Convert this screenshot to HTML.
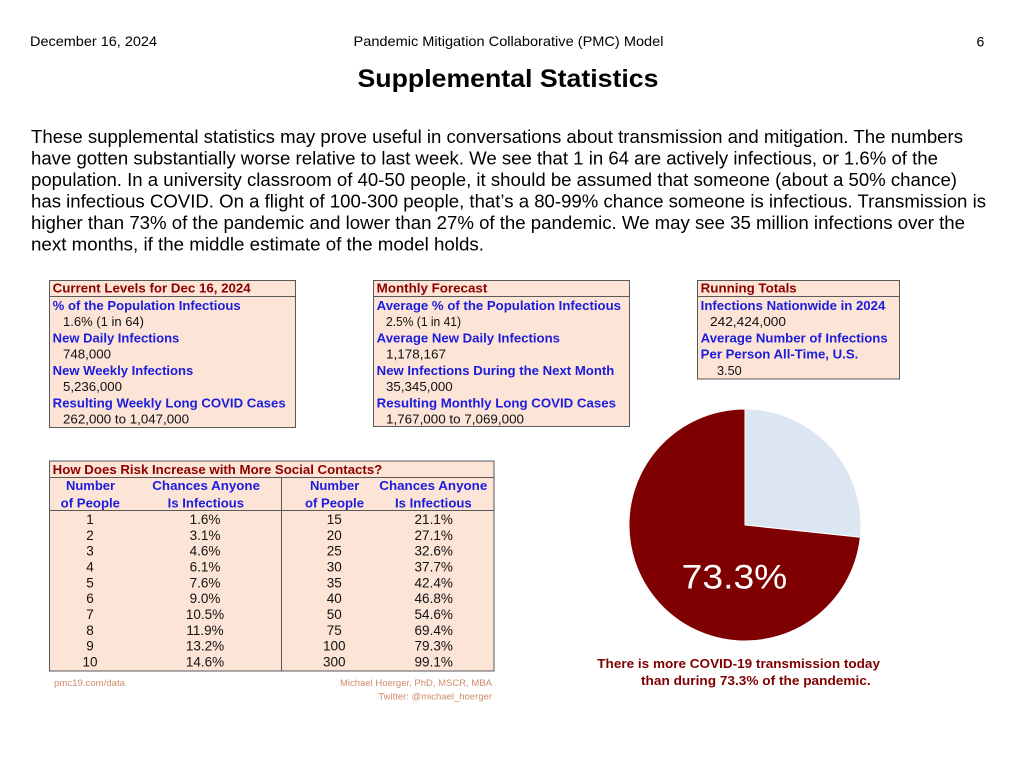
<!DOCTYPE html>
<html>
<head>
<meta charset="utf-8">
<style>
  html,body{margin:0;padding:0;background:#fff;}
  svg{display:block;}
  text{font-family:"Liberation Sans", Arial, sans-serif;}
  .hd{font-size:13px;font-weight:bold;fill:#8c0000;}
  .lb{font-size:13px;font-weight:bold;fill:#1c1cdc;}
  .vl{font-size:13px;fill:#111;}
  .th{font-size:13px;font-weight:bold;fill:#1c1cdc;}
  .td{font-size:13.5px;fill:#111;}
  .ft{font-size:9.5px;fill:#d08a6a;}
  .p{font-size:18px;fill:#000;}
</style>
</head>
<body>
<svg width="1019" height="765" viewBox="0 0 1019 765" xmlns="http://www.w3.org/2000/svg">
  <rect x="0" y="0" width="1019" height="765" fill="#fff"/>

  <!-- Header -->
  <text x="30" y="46" font-size="14" fill="#000" textLength="127" lengthAdjust="spacingAndGlyphs">December 16, 2024</text>
  <text x="353.5" y="46" font-size="14" fill="#000" textLength="310" lengthAdjust="spacingAndGlyphs">Pandemic Mitigation Collaborative (PMC) Model</text>
  <text x="976.5" y="46.5" font-size="14" fill="#000">6</text>

  <!-- Title -->
  <text x="357.5" y="87" font-size="25" font-weight="bold" fill="#000" textLength="301" lengthAdjust="spacingAndGlyphs">Supplemental Statistics</text>

  <!-- Paragraph -->
  <text class="p" x="31" y="143" textLength="932" lengthAdjust="spacingAndGlyphs">These supplemental statistics may prove useful in conversations about transmission and mitigation. The numbers</text>
  <text class="p" x="31" y="164.5" textLength="907" lengthAdjust="spacingAndGlyphs">have gotten substantially worse relative to last week. We see that 1 in 64 are actively infectious, or 1.6% of the</text>
  <text class="p" x="31" y="186" textLength="926" lengthAdjust="spacingAndGlyphs">population. In a university classroom of 40-50 people, it should be assumed that someone (about a 50% chance)</text>
  <text class="p" x="31" y="207.5" textLength="955" lengthAdjust="spacingAndGlyphs">has infectious COVID. On a flight of 100-300 people, that’s a 80-99% chance someone is infectious. Transmission is</text>
  <text class="p" x="31" y="229" textLength="934" lengthAdjust="spacingAndGlyphs">higher than 73% of the pandemic and lower than 27% of the pandemic. We may see 35 million infections over the</text>
  <text class="p" x="31" y="250.5" textLength="453" lengthAdjust="spacingAndGlyphs">next months, if the middle estimate of the model holds.</text>

  <!-- Box 1: Current Levels -->
  <rect x="49.5" y="280.5" width="246" height="147" fill="#fce4d6" stroke="#595959" stroke-width="1"/>
  <line x1="49.5" y1="296.5" x2="295.5" y2="296.5" stroke="#595959" stroke-width="1"/>
  <text class="hd" x="52.7" y="292.5" textLength="198" lengthAdjust="spacingAndGlyphs">Current Levels for Dec 16, 2024</text>
  <text class="lb" x="52.7" y="310" textLength="188" lengthAdjust="spacingAndGlyphs">% of the Population Infectious</text>
  <text class="vl" x="63" y="326" textLength="81" lengthAdjust="spacingAndGlyphs">1.6% (1 in 64)</text>
  <text class="lb" x="52.7" y="342.5" textLength="126.6" lengthAdjust="spacingAndGlyphs">New Daily Infections</text>
  <text class="vl" x="63" y="358.5" textLength="48" lengthAdjust="spacingAndGlyphs">748,000</text>
  <text class="lb" x="52.7" y="375" textLength="140.6" lengthAdjust="spacingAndGlyphs">New Weekly Infections</text>
  <text class="vl" x="63" y="391" textLength="59" lengthAdjust="spacingAndGlyphs">5,236,000</text>
  <text class="lb" x="52.7" y="407.3" textLength="233" lengthAdjust="spacingAndGlyphs">Resulting Weekly Long COVID Cases</text>
  <text class="vl" x="63" y="423.3" textLength="126" lengthAdjust="spacingAndGlyphs">262,000 to 1,047,000</text>

  <!-- Box 2: Monthly Forecast -->
  <rect x="373.5" y="280.5" width="256" height="146" fill="#fce4d6" stroke="#595959" stroke-width="1"/>
  <line x1="373.5" y1="296.5" x2="629.5" y2="296.5" stroke="#595959" stroke-width="1"/>
  <text class="hd" x="376.7" y="292.5" textLength="110.6" lengthAdjust="spacingAndGlyphs">Monthly Forecast</text>
  <text class="lb" x="376.7" y="310" textLength="244.3" lengthAdjust="spacingAndGlyphs">Average % of the Population Infectious</text>
  <text class="vl" x="386" y="326" textLength="75" lengthAdjust="spacingAndGlyphs">2.5% (1 in 41)</text>
  <text class="lb" x="376.7" y="342.5" textLength="183.3" lengthAdjust="spacingAndGlyphs">Average New Daily Infections</text>
  <text class="vl" x="386" y="358.5" textLength="60" lengthAdjust="spacingAndGlyphs">1,178,167</text>
  <text class="lb" x="376.7" y="375" textLength="237.6" lengthAdjust="spacingAndGlyphs">New Infections During the Next Month</text>
  <text class="vl" x="386" y="391" textLength="66.7" lengthAdjust="spacingAndGlyphs">35,345,000</text>
  <text class="lb" x="376.7" y="407.3" textLength="239.3" lengthAdjust="spacingAndGlyphs">Resulting Monthly Long COVID Cases</text>
  <text class="vl" x="386" y="423.3" textLength="138" lengthAdjust="spacingAndGlyphs">1,767,000 to 7,069,000</text>

  <!-- Box 3: Running Totals -->
  <rect x="697.5" y="280.5" width="202" height="98.5" fill="#fce4d6" stroke="#595959" stroke-width="1"/>
  <line x1="697.5" y1="296.5" x2="899.5" y2="296.5" stroke="#595959" stroke-width="1"/>
  <text class="hd" x="700.7" y="292.5" textLength="96" lengthAdjust="spacingAndGlyphs">Running Totals</text>
  <text class="lb" x="700.7" y="310" textLength="184.6" lengthAdjust="spacingAndGlyphs">Infections Nationwide in 2024</text>
  <text class="vl" x="710" y="326" textLength="76" lengthAdjust="spacingAndGlyphs">242,424,000</text>
  <text class="lb" x="700.7" y="342.5" textLength="187" lengthAdjust="spacingAndGlyphs">Average Number of Infections</text>
  <text class="lb" x="700.7" y="358.7" textLength="157.6" lengthAdjust="spacingAndGlyphs">Per Person All-Time, U.S.</text>
  <text class="vl" x="717" y="375" textLength="24.7" lengthAdjust="spacingAndGlyphs">3.50</text>

  <!-- Risk table -->
  <rect x="49.5" y="461" width="444.5" height="210" fill="#fce4d6" stroke="#595959" stroke-width="1"/>
  <line x1="49.5" y1="477.5" x2="494" y2="477.5" stroke="#595959" stroke-width="1"/>
  <line x1="49.5" y1="510.5" x2="494" y2="510.5" stroke="#595959" stroke-width="1"/>
  <line x1="281.5" y1="477.5" x2="281.5" y2="671" stroke="#595959" stroke-width="1"/>
  <text class="hd" x="52.7" y="474" textLength="329.6" lengthAdjust="spacingAndGlyphs">How Does Risk Increase with More Social Contacts?</text>

  <text class="th" x="66" y="490" textLength="49" lengthAdjust="spacingAndGlyphs">Number</text>
  <text class="th" x="60.7" y="507.3" textLength="59.3" lengthAdjust="spacingAndGlyphs">of People</text>
  <text class="th" x="152.3" y="490" textLength="107.7" lengthAdjust="spacingAndGlyphs">Chances Anyone</text>
  <text class="th" x="167.7" y="507.3" textLength="76.3" lengthAdjust="spacingAndGlyphs">Is Infectious</text>
  <text class="th" x="310" y="490" textLength="49.3" lengthAdjust="spacingAndGlyphs">Number</text>
  <text class="th" x="305" y="507.3" textLength="59" lengthAdjust="spacingAndGlyphs">of People</text>
  <text class="th" x="379.3" y="490" textLength="108" lengthAdjust="spacingAndGlyphs">Chances Anyone</text>
  <text class="th" x="395" y="507.3" textLength="76.7" lengthAdjust="spacingAndGlyphs">Is Infectious</text>

  <g class="td" text-anchor="middle">
    <text class="td" x="90" y="524">1</text>
    <text class="td" x="90" y="540">2</text>
    <text class="td" x="90" y="555.7">3</text>
    <text class="td" x="90" y="571.5">4</text>
    <text class="td" x="90" y="587.3">5</text>
    <text class="td" x="90" y="603.2">6</text>
    <text class="td" x="90" y="619">7</text>
    <text class="td" x="90" y="634.8">8</text>
    <text class="td" x="90" y="650.7">9</text>
    <text class="td" x="90" y="666.5">10</text>

    <text class="td" x="205" y="524">1.6%</text>
    <text class="td" x="205" y="540">3.1%</text>
    <text class="td" x="205" y="555.7">4.6%</text>
    <text class="td" x="205" y="571.5">6.1%</text>
    <text class="td" x="205" y="587.3">7.6%</text>
    <text class="td" x="205" y="603.2">9.0%</text>
    <text class="td" x="205" y="619">10.5%</text>
    <text class="td" x="205" y="634.8">11.9%</text>
    <text class="td" x="205" y="650.7">13.2%</text>
    <text class="td" x="205" y="666.5">14.6%</text>

    <text class="td" x="334.3" y="524">15</text>
    <text class="td" x="334.3" y="540">20</text>
    <text class="td" x="334.3" y="555.7">25</text>
    <text class="td" x="334.3" y="571.5">30</text>
    <text class="td" x="334.3" y="587.3">35</text>
    <text class="td" x="334.3" y="603.2">40</text>
    <text class="td" x="334.3" y="619">50</text>
    <text class="td" x="334.3" y="634.8">75</text>
    <text class="td" x="334.3" y="650.7">100</text>
    <text class="td" x="334.3" y="666.5">300</text>

    <text class="td" x="433.7" y="524">21.1%</text>
    <text class="td" x="433.7" y="540">27.1%</text>
    <text class="td" x="433.7" y="555.7">32.6%</text>
    <text class="td" x="433.7" y="571.5">37.7%</text>
    <text class="td" x="433.7" y="587.3">42.4%</text>
    <text class="td" x="433.7" y="603.2">46.8%</text>
    <text class="td" x="433.7" y="619">54.6%</text>
    <text class="td" x="433.7" y="634.8">69.4%</text>
    <text class="td" x="433.7" y="650.7">79.3%</text>
    <text class="td" x="433.7" y="666.5">99.1%</text>
  </g>

  <!-- Footer credits -->
  <text class="ft" x="54" y="686" textLength="71" lengthAdjust="spacingAndGlyphs">pmc19.com/data</text>
  <text class="ft" x="492" y="686" text-anchor="end">Michael Hoerger, PhD, MSCR, MBA</text>
  <text class="ft" x="492" y="699.5" text-anchor="end">Twitter: @michael_hoerger</text>

  <!-- Pie chart -->
  <path d="M745,525 L745,409 A116,116 0 0,1 860.3,537.3 Z" fill="#dce6f2" stroke="#ffffff" stroke-width="1"/>
  <path d="M745,525 L860.3,537.3 A116,116 0 1,1 745,409 Z" fill="#7f0000" stroke="#ffffff" stroke-width="1"/>
  <text x="681.7" y="588.5" font-size="34" fill="#ffffff" textLength="105.6" lengthAdjust="spacingAndGlyphs">73.3%</text>

  <!-- Caption -->
  <text x="597.3" y="668" font-size="12.5" font-weight="bold" fill="#7f0000" textLength="282.7" lengthAdjust="spacingAndGlyphs">There is more COVID-19 transmission today</text>
  <text x="641" y="685" font-size="12.5" font-weight="bold" fill="#7f0000" textLength="229.7" lengthAdjust="spacingAndGlyphs">than during 73.3% of the pandemic.</text>
</svg>
</body>
</html>
